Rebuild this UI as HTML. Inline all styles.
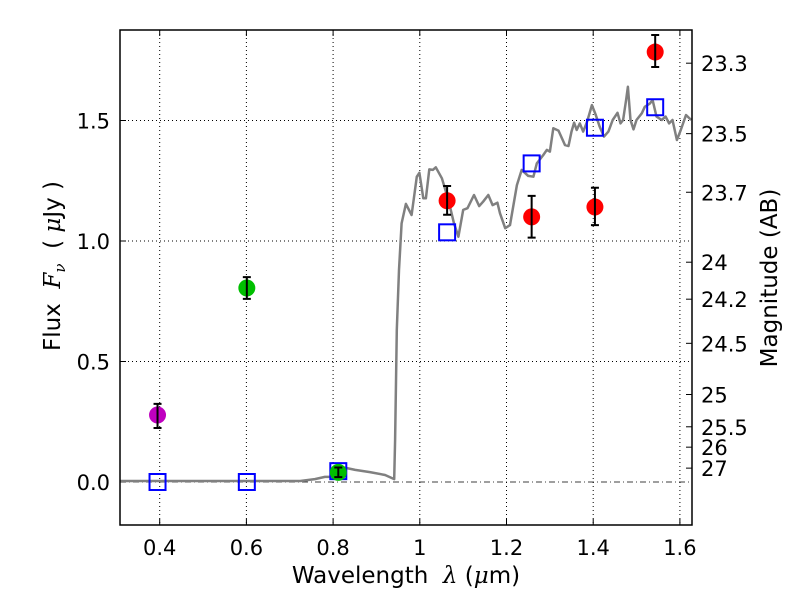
<!DOCTYPE html>
<html><head><meta charset="utf-8"><style>
body{margin:0;background:#fff;}
svg text{font-family:"DejaVu Sans","Liberation Sans",sans-serif;white-space:pre;}
</style></head><body>
<svg id="chart" width="800" height="600" xmlns="http://www.w3.org/2000/svg"></svg>
<script>
const specLam=[0.308,0.724,0.758,0.781,0.811,0.821,0.851,0.885,0.920,0.941,0.943,0.947,0.952,0.958,0.968,0.981,0.993,0.999,1.008,1.014,1.022,1.030,1.037,1.051,1.066,1.079,1.089,1.100,1.110,1.125,1.137,1.146,1.158,1.168,1.179,1.185,1.197,1.208,1.224,1.235,1.250,1.262,1.270,1.285,1.293,1.300,1.308,1.320,1.335,1.343,1.350,1.356,1.362,1.369,1.377,1.386,1.397,1.406,1.415,1.425,1.435,1.445,1.456,1.463,1.469,1.476,1.480,1.486,1.493,1.500,1.512,1.519,1.531,1.537,1.546,1.558,1.567,1.575,1.583,1.593,1.602,1.614,1.626];
const specFlux=[0.004,0.004,0.012,0.021,0.021,0.062,0.05,0.041,0.029,0.012,0.174,0.631,0.880,1.073,1.154,1.108,1.267,1.283,1.177,1.177,1.297,1.295,1.306,1.260,1.170,1.073,1.018,1.129,1.136,1.191,1.145,1.163,1.191,1.149,1.159,1.115,1.053,1.066,1.232,1.295,1.270,1.267,1.322,1.357,1.378,1.371,1.468,1.458,1.398,1.394,1.454,1.491,1.461,1.488,1.454,1.495,1.564,1.523,1.474,1.433,1.454,1.502,1.532,1.488,1.502,1.585,1.640,1.502,1.463,1.502,1.530,1.557,1.571,1.585,1.516,1.502,1.516,1.488,1.502,1.419,1.461,1.523,1.502];
const obsLam=[0.395,0.601,0.812,1.063,1.258,1.404,1.543];
const obsFlux=[0.278,0.805,0.04,1.167,1.10,1.141,1.784];
const obsErrLo=[0.054,0.045,0.02,0.058,0.086,0.075,0.062];
const obsErrHi=[0.046,0.045,0.02,0.061,0.087,0.080,0.071];
const obsColor=['#bf00bf','#00bf00','#00bf00','#ff0000','#ff0000','#ff0000','#ff0000'];
const modLam=[0.395,0.601,0.812,1.063,1.258,1.404,1.543];
const modFlux=[0,0,0.045,1.036,1.322,1.47,1.555];
const xTicks=[0.4,0.6,0.8,1.0,1.2,1.4,1.6];
const xTickLabels=['0.4','0.6','0.8','1','1.2','1.4','1.6'];
const yTicks=[0,0.5,1.0,1.5];
const yTickLabels=['0.0','0.5','1.0','1.5'];
const magTicks=[23.3,23.5,23.7,24,24.2,24.5,25,25.5,26,27];
const magTickLabels=['23.3','23.5','23.7','24','24.2','24.5','25','25.5','26','27'];

const L=120,R=692,T=30,B=525;
const X=v=>159.7+(v-0.4)*433.5;
const Y=f=>482-f*241;
const svg=document.getElementById('chart');
const NS='http://www.w3.org/2000/svg';
function mk(tag,attrs,parent){const e=document.createElementNS(NS,tag);for(const k in attrs)e.setAttribute(k,attrs[k]);(parent||svg).appendChild(e);return e;}
const FS=21, TS=23;
xTicks.forEach((v,i)=>{
  const g=mk('line',{x1:X(v),x2:X(v),y1:T,y2:B,stroke:'#000','stroke-width':1,'stroke-dasharray':'1,3'});
  
  
  mk('line',{x1:X(v),x2:X(v),y1:B,y2:B-6,stroke:'#000'});
  mk('line',{x1:X(v),x2:X(v),y1:T,y2:T+6,stroke:'#000'});
  const t=mk('text',{x:X(v),y:B+30,'text-anchor':'middle','font-size':FS});t.textContent=xTickLabels[i];
  
  
});
yTicks.forEach((v,i)=>{
  if(v!==0){const g=mk('line',{x1:L,x2:R,y1:Y(v),y2:Y(v),stroke:'#000','stroke-width':1,'stroke-dasharray':'1,3'});
  
  }
  mk('line',{x1:L,x2:L+6,y1:Y(v),y2:Y(v),stroke:'#000'});
  const t=mk('text',{x:L-10,y:Y(v)+8,'text-anchor':'end','font-size':FS});t.textContent=yTickLabels[i];
  
  
});
const z=mk('line',{x1:L,x2:R,y1:Y(0),y2:Y(0),stroke:'#000','stroke-width':0.8,'stroke-dasharray':'6,3,1,3'});


magTicks.forEach((m,i)=>{
  const f=Math.pow(10,(23.9-m)/2.5);
  mk('line',{x1:R,x2:R-6,y1:Y(f),y2:Y(f),stroke:'#000'});
  const t=mk('text',{x:R+9,y:Y(f)+8,'font-size':FS});t.textContent=magTickLabels[i];
  
  
});
let d='';specLam.forEach((l,i)=>{d+=(i?'L':'M')+X(l).toFixed(1)+','+Y(specFlux[i]).toFixed(1);});
const sp=mk('path',{d:d,fill:'none',stroke:'#808080','stroke-width':2.5,'stroke-linejoin':'round'});


modLam.forEach((l,i)=>{
  const r=mk('rect',{x:X(l)-8,y:Y(modFlux[i])-8,width:16,height:16,fill:'none',stroke:'#0000ff','stroke-width':2});
  
  
});
obsLam.forEach((l,i)=>{
  const cx=X(l),cy=Y(obsFlux[i]);
  const c=mk('circle',{cx:cx,cy:cy,r:8.5,fill:obsColor[i]});
  
  
  const y1=Y(obsFlux[i]+obsErrHi[i]),y2=Y(obsFlux[i]-obsErrLo[i]);
  const e=mk('path',{d:`M${cx},${y1}L${cx},${y2}M${cx-4},${y1}L${cx+4},${y1}M${cx-4},${y2}L${cx+4},${y2}`,stroke:'#000','stroke-width':2,fill:'none'});
  
  
});
const fr=mk('rect',{x:L,y:T,width:R-L,height:B-T,fill:'none',stroke:'#000','stroke-width':1.5});


const xl=mk('text',{x:406,y:583,'text-anchor':'middle','font-size':TS});
xl.innerHTML='Wavelength\u00a0\u00a0<tspan font-style="italic" font-family="DejaVu Serif">λ</tspan> (<tspan font-style="italic" font-family="DejaVu Serif">μ</tspan>m)';


const yl=mk('text',{x:0,y:0,'text-anchor':'middle','font-size':TS,transform:'translate(60,266) rotate(-90)'});
yl.innerHTML='Flux\u00a0\u00a0<tspan font-style="italic" font-family="DejaVu Serif">F</tspan><tspan font-style="italic" font-family="DejaVu Serif" font-size="15" dy="5">ν</tspan><tspan dy="-5">\u00a0\u00a0(\u00a0</tspan><tspan font-style="italic" font-family="DejaVu Serif">μ</tspan>Jy\u00a0)';


const ml=mk('text',{x:0,y:0,'text-anchor':'middle','font-size':TS,transform:'translate(777,278) rotate(-90)'});
ml.textContent='Magnitude (AB)';


</script>
</body></html>
